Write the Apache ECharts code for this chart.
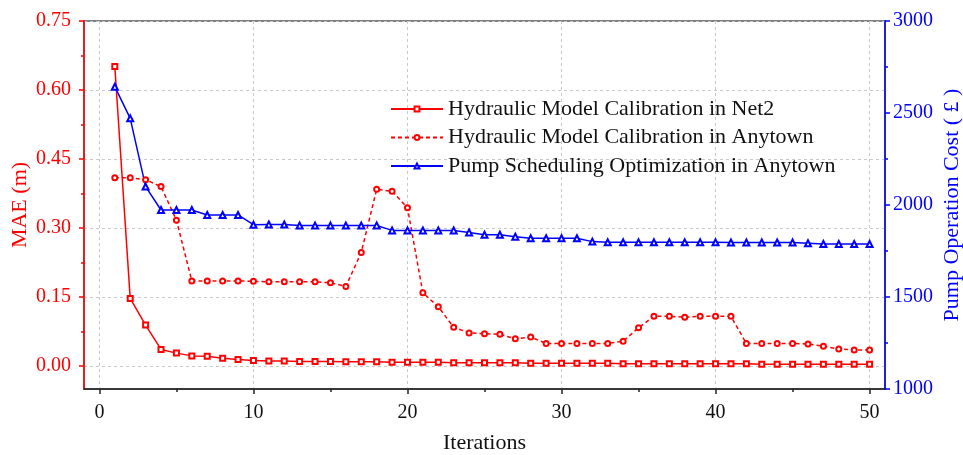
<!DOCTYPE html>
<html>
<head>
<meta charset="utf-8">
<script src="https://cdn.jsdelivr.net/npm/echarts@6/dist/echarts.min.js"></script>
<style>
  html, body { margin: 0; background: #fff; }
  #chart { width: 963px; height: 455px; }
</style>
</head>
<body>
<div id="chart"></div>
<script>
const iterations = [1, 2, 3, 4, 5, 6, 7, 8, 9, 10, 11, 12, 13, 14, 15, 16, 17, 18, 19, 20,
  21, 22, 23, 24, 25, 26, 27, 28, 29, 30, 31, 32, 33, 34, 35, 36, 37, 38, 39, 40,
  41, 42, 43, 44, 45, 46, 47, 48, 49, 50];

// MAE (m), left axis
const maeNet2 = [0.651, 0.147, 0.089, 0.036, 0.028, 0.022, 0.021, 0.017, 0.014, 0.012,
  0.011, 0.011, 0.010, 0.010, 0.010, 0.009, 0.009, 0.009, 0.008, 0.008,
  0.008, 0.008, 0.007, 0.007, 0.007, 0.007, 0.007, 0.006, 0.006, 0.006,
  0.006, 0.006, 0.006, 0.005, 0.005, 0.005, 0.005, 0.005, 0.005, 0.005,
  0.005, 0.005, 0.004, 0.004, 0.004, 0.004, 0.004, 0.004, 0.004, 0.004];
const maeAnytown = [0.409, 0.409, 0.405, 0.390, 0.317, 0.185, 0.185, 0.185, 0.185, 0.184,
  0.183, 0.183, 0.183, 0.183, 0.181, 0.173, 0.247, 0.384, 0.380, 0.344,
  0.159, 0.129, 0.084, 0.072, 0.070, 0.069, 0.059, 0.063, 0.049, 0.049,
  0.049, 0.049, 0.049, 0.054, 0.083, 0.108, 0.108, 0.106, 0.108, 0.108,
  0.108, 0.049, 0.049, 0.049, 0.049, 0.048, 0.043, 0.037, 0.035, 0.035];

// Pump operation cost, right axis
const pumpCost = [2643, 2471, 2100, 1973, 1973, 1973, 1946, 1946, 1946, 1893,
  1894, 1894, 1888, 1888, 1888, 1888, 1888, 1889, 1862, 1862,
  1862, 1862, 1862, 1851, 1838, 1838, 1828, 1819, 1819, 1819,
  1819, 1801, 1797, 1797, 1797, 1797, 1797, 1797, 1797, 1797,
  1796, 1796, 1796, 1796, 1796, 1792, 1788, 1788, 1788, 1788];

const xTicks = [0, 10, 20, 30, 40, 50];
const xMinorTicks = [5, 15, 25, 35, 45];
const maeTicks = [0, 0.15, 0.30, 0.45, 0.60, 0.75];
const maeMinorTicks = [0.075, 0.225, 0.375, 0.525, 0.675];

const RED = '#ff0000';
const BLUE = '#0000ff';
const FONT = '"Liberation Serif", "Times New Roman", serif';

const toPairs = (vals) => iterations.map((it, i) => [it, vals[i]]);

const chart = echarts.init(document.getElementById('chart'));

const gridLine = { show: true, lineStyle: { color: '#c8c8c8', type: [3, 3], width: 1 } };

chart.setOption({
  animation: false,
  backgroundColor: '#fff',
  textStyle: { fontFamily: FONT },
  grid: {
    left: 84, right: 78, top: 21, bottom: 66,
    show: true, borderColor: '#555', borderWidth: 1.5,
    outerBoundsMode: 'none'
  },
  legend: {
    orient: 'vertical',
    left: 390,
    top: 98,
    padding: 0,
    itemWidth: 52,
    itemHeight: 6,
    itemGap: 6.5,
    textStyle: { fontFamily: FONT, fontSize: 22, color: '#111' },
    data: ['Hydraulic Model Calibration in Net2', 'Hydraulic Model Calibration in Anytown',
      'Pump Scheduling Optimization in Anytown']
  },
  xAxis: [{
    type: 'value',
    min: -1, max: 51,
    name: 'Iterations',
    nameLocation: 'middle',
    nameGap: 43,
    nameMoveOverlap: false,
    nameTextStyle: { fontFamily: FONT, fontSize: 22, color: '#111' },
    axisLine: { onZero: false, lineStyle: { color: '#222', width: 1.5 } },
    axisTick: { customValues: xTicks, length: 5, lineStyle: { color: '#222', width: 1.5 } },
    axisLabel: { customValues: xTicks, fontFamily: FONT, fontSize: 20, color: '#111', margin: 14 },
    splitLine: Object.assign({ customValues: xTicks }, gridLine)
  }, {
    // minor ticks only
    type: 'value',
    position: 'bottom',
    min: -1, max: 51,
    axisLine: { show: false, onZero: false },
    axisLabel: { show: false },
    splitLine: { show: false },
    axisTick: { customValues: xMinorTicks, length: 3, lineStyle: { color: '#222', width: 1.5 } }
  }],
  yAxis: [{
    type: 'value',
    position: 'left',
    min: -0.05, max: 0.75,
    name: 'MAE (m)',
    nameLocation: 'middle',
    nameGap: 53,
    nameMoveOverlap: false,
    nameTextStyle: { fontFamily: FONT, fontSize: 22, color: RED },
    axisLine: { show: true, onZero: false, lineStyle: { color: RED, width: 1.5 } },
    axisTick: { show: true, customValues: maeTicks, length: 5, lineStyle: { color: RED, width: 1.5 } },
    axisLabel: {
      customValues: maeTicks, fontFamily: FONT, fontSize: 20, color: RED, margin: 13,
      formatter: (v) => v.toFixed(2)
    },
    splitLine: Object.assign({ customValues: maeTicks }, gridLine)
  }, {
    type: 'value',
    position: 'right',
    min: 1000, max: 3000, interval: 500,
    name: 'Pump Operation Cost ( £ )',
    nameLocation: 'middle',
    nameGap: 56,
    nameMoveOverlap: false,
    nameTextStyle: { fontFamily: FONT, fontSize: 22, color: BLUE },
    axisLine: { show: true, onZero: false, lineStyle: { color: BLUE, width: 1.5 } },
    axisTick: { show: true, length: 5, lineStyle: { color: BLUE, width: 1.5 } },
    minorTick: { show: true, splitNumber: 2, length: 3, lineStyle: { color: BLUE, width: 1.5 } },
    axisLabel: {
      fontFamily: FONT, fontSize: 20, color: BLUE, margin: 8,
      formatter: (v) => String(v)
    },
    splitLine: { show: false }
  }, {
    // minor ticks of the MAE axis
    type: 'value',
    position: 'left',
    min: -0.05, max: 0.75,
    axisLine: { show: false, onZero: false },
    axisLabel: { show: false },
    splitLine: { show: false },
    axisTick: { show: true, customValues: maeMinorTicks, length: 3, lineStyle: { color: RED, width: 1.5 } }
  }],
  series: [{
    name: 'Hydraulic Model Calibration in Net2',
    type: 'line',
    data: toPairs(maeNet2),
    symbol: 'emptyRect',
    symbolSize: 5,
    itemStyle: { color: RED, borderWidth: 1.2 },
    lineStyle: { color: RED, width: 1.5 },
    z: 3
  }, {
    name: 'Hydraulic Model Calibration in Anytown',
    type: 'line',
    data: toPairs(maeAnytown),
    symbol: 'emptyCircle',
    symbolSize: 5,
    itemStyle: { color: RED, borderWidth: 1.2 },
    lineStyle: { color: RED, width: 1.5, type: [4, 3] },
    z: 3
  }, {
    name: 'Pump Scheduling Optimization in Anytown',
    type: 'line',
    yAxisIndex: 1,
    data: toPairs(pumpCost),
    symbol: 'emptyTriangle',
    symbolSize: 6,
    itemStyle: { color: BLUE, borderWidth: 1.2 },
    lineStyle: { color: BLUE, width: 1.5 },
    z: 3
  }]
});
</script>
</body>
</html>
